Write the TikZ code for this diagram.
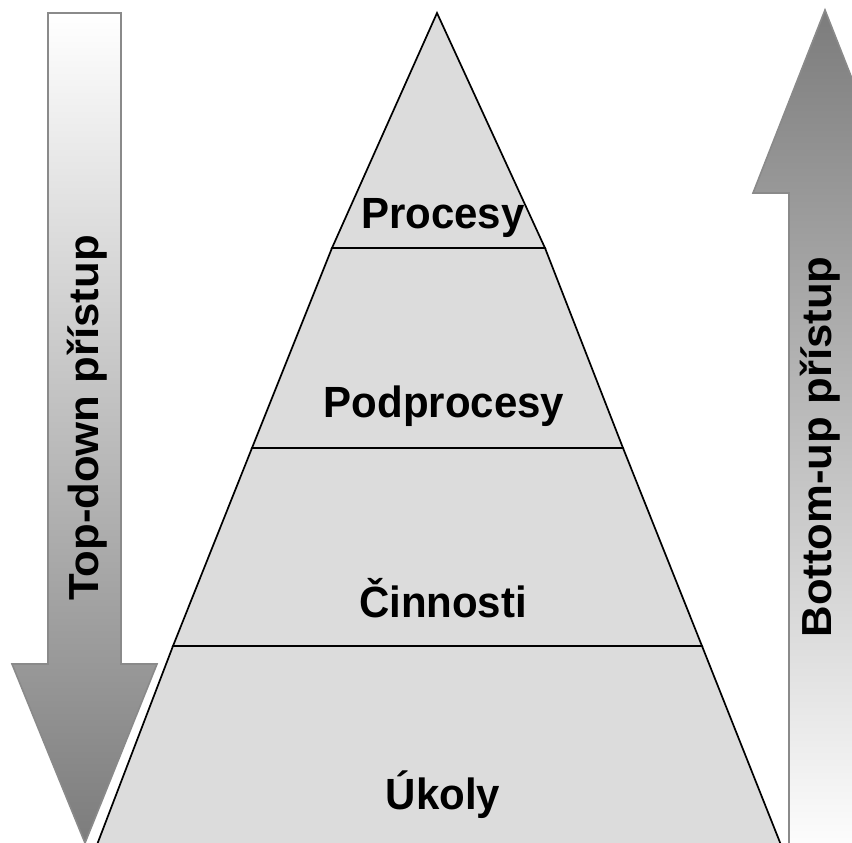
\documentclass[tikz,border=0pt]{standalone}
\usepackage{fontspec}
\setmainfont{Liberation Sans}
\begin{document}
\begin{tikzpicture}[x=1pt,y=-1pt,
  layer/.style={fill=layergray,draw=black,line width=1.7pt,line join=miter},
  label/.style={font=\fontsize{42}{47}\selectfont\bfseries,text=black,inner sep=0pt,yscale=1.04},
  arrowbody/.style={draw=arrowedge,line width=1.6pt,line join=miter}]
\definecolor{layergray}{HTML}{DCDCDC}
\definecolor{arrowedge}{HTML}{8A8A8A}
\definecolor{arrowdark}{HTML}{7C7C7C}
\useasboundingbox (0,0) rectangle (852,843);
\clip (0,0) rectangle (852,843);

% downward arrow on the left, fading from white to grey
\shade[arrowbody,top color=white,bottom color=arrowdark]
  (48,13) -- (121,13) -- (121,664) -- (157,664) -- (85,843)
  -- (12,664) -- (48,664) -- cycle;

% upward arrow on the right, fading from grey to white
\shade[arrowbody,top color=arrowdark,bottom color=white]
  (825,10) -- (897,193) -- (861,193) -- (861,860) -- (789,860)
  -- (789,193) -- (753,193) -- cycle;

% pyramid layers, top to bottom
\filldraw[layer] (437,13) -- (545,248) -- (332,248) -- cycle;
\filldraw[layer] (332,248) -- (545,248) -- (623,448) -- (252,448) -- cycle;
\filldraw[layer] (252,448) -- (623,448) -- (702,646) -- (173,646) -- cycle;
\filldraw[layer] (173,646) -- (702,646) -- (783,850) -- (95,850) -- cycle;

\node[label] (procesy) at (443,218) {Procesy};
\node[label] (podprocesy) at (444,406) {Podprocesy};
\node[label] (cinnosti) at (443,598) {Činnosti};
\node[label] (ukoly) at (443,795) {Úkoly};

\node[label,rotate=90] (topdown) at (87,418) {Top-down přístup};
\node[label,rotate=90] (bottomup) at (820,447) {Bottom-up přístup};
\end{tikzpicture}
\end{document}
